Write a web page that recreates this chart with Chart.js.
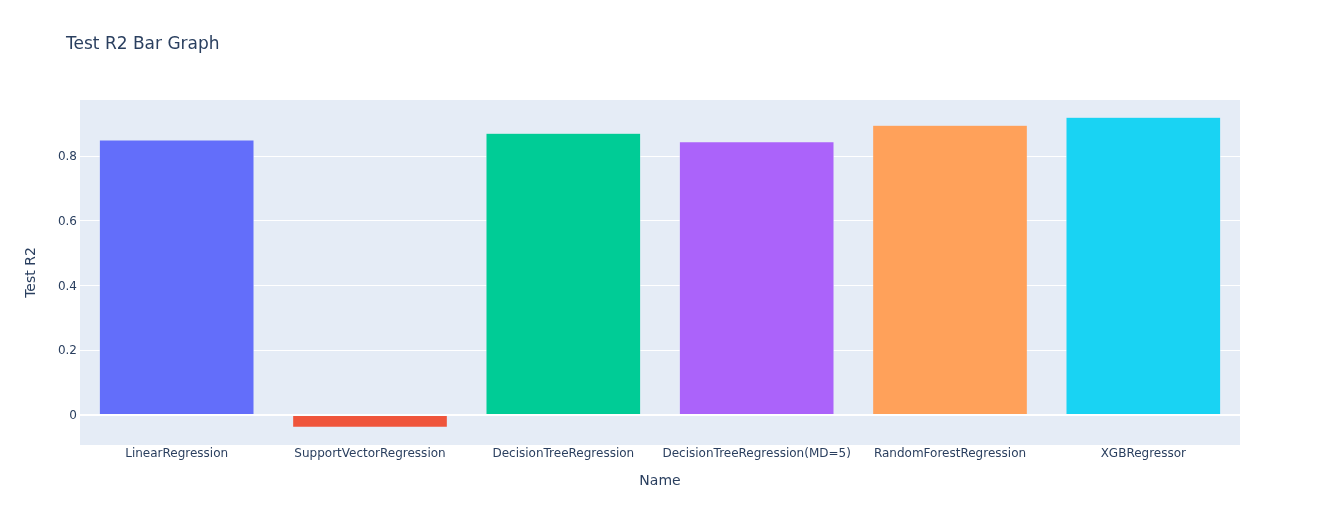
<!DOCTYPE html>
<html>
<head>
<meta charset="utf-8">
<script src="https://cdn.jsdelivr.net/npm/chart.js@4"></script>
<style>
  html, body { margin: 0; padding: 0; background: #fff; }
  #wrap { width: 1320px; height: 525px; }
</style>
</head>
<body>
<div id="wrap"><canvas id="grafico"></canvas></div>
<script>
const names = ['LinearRegression', 'SupportVectorRegression', 'DecisionTreeRegression',
    'DecisionTreeRegression(MD=5)', 'RandomForestRegression', 'XGBRegressor']
const testR2 = [0.850, -0.038, 0.871, 0.845, 0.896, 0.921]
const barColors = ['#636efa', '#EF553B', '#00cc96', '#ab63fa', '#FFA15A', '#19d3f3']
const yTicks = [0, 0.2, 0.4, 0.6, 0.8]

const fonte = '"DejaVu Sans", verdana, arial, sans-serif'
const corTexto = '#2a3f5f'

// plot background + title drawn by hand (plotly style)
const fundo = {
    id: 'fundo',
    beforeDraw(chart) {
        const {ctx, chartArea} = chart
        ctx.save()
        ctx.fillStyle = '#E5ECF6'
        ctx.fillRect(chartArea.left, chartArea.top, chartArea.right - chartArea.left, chartArea.bottom - chartArea.top)
        ctx.restore()
    },
    afterDraw(chart) {
        const ctx = chart.ctx
        ctx.save()
        ctx.font = '17px ' + fonte
        ctx.fillStyle = corTexto
        ctx.textBaseline = 'middle'
        ctx.fillText('Test R2 Bar Graph', 66, 45)
        ctx.restore()
    }
}

const data = {
    labels: names,
    datasets: [{
        label: 'Test R2',
        data: testR2,
        backgroundColor: barColors,
        borderColor: '#E5ECF6',
        borderWidth: 0.5,
        barPercentage: 0.8,
        categoryPercentage: 1
    }]
}

const config = {
    type: 'bar',
    data,
    options: {
        responsive: true,
        maintainAspectRatio: false,
        animation: false,
        layout: { padding: { top: 100, right: 80, bottom: 0, left: 0 } },
        scales: {
            x: {
                grid: { display: false, drawTicks: false },
                border: { display: false },
                ticks: { color: corTexto, font: { family: fonte, size: 12 }, padding: 2, maxRotation: 0 },
                title: { display: true, text: 'Name', color: corTexto, font: { family: fonte, size: 14 }, padding: { top: 0, bottom: 35 } },
                afterFit(scale) { scale.height = 80 }
            },
            y: {
                min: -0.0928,
                max: 0.974,
                grid: {
                    color: '#ffffff',
                    lineWidth: (c) => (c.tick && c.tick.value === 0 ? 2 : 1),
                    drawTicks: false
                },
                border: { display: false },
                ticks: { color: corTexto, font: { family: fonte, size: 12 }, padding: 3, labelOffset: 1 },
                afterBuildTicks(scale) { scale.ticks = yTicks.map(v => ({ value: v })) },
                title: { display: true, text: 'Test R2', color: corTexto, font: { family: fonte, size: 14 }, padding: { top: 23, bottom: 0 } },
                afterFit(scale) { scale.width = 80 }
            }
        },
        plugins: {
            legend: { display: false },
            title: { display: false },
            tooltip: { enabled: true }
        }
    },
    plugins: [fundo]
}

const meuGrafico = new Chart(document.getElementById('grafico'), config)
</script>
</body>
</html>
